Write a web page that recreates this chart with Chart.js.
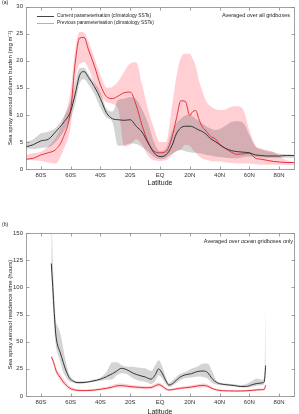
<!DOCTYPE html>
<html>
<head>
<meta charset="utf-8">
<script src="https://cdn.jsdelivr.net/npm/chart.js@4"></script>
<style>
html, body { margin: 0; padding: 0; background: #fff; width: 299px; height: 414px; overflow: hidden; }
body { position: relative; font-family: "Liberation Sans", Arial, sans-serif; color: #222; }
canvas { position: absolute; left: 0; }
#chartA { top: 0; }
#chartB { top: 200px; }
.note { position: absolute; white-space: nowrap; line-height: 1; }
.key { position: absolute; width: 17px; height: 0; }
</style>
</head>
<body>
<canvas id="chartA" width="299" height="200"></canvas>
<canvas id="chartB" width="299" height="220"></canvas>

<div class="note" style="left:2px; top:0px; font-size:5px;">(a)</div>
<div class="key" style="left:37px; top:16px; border-top:1px solid #444;"></div>
<div class="note" style="left:57px; top:13.5px; font-size:4.8px;">Current parameterisation (climatology SSTs)</div>
<div class="key" style="left:37px; top:22.5px; border-top:1.5px solid #f2959c;"></div>
<div class="note" style="left:57px; top:20.5px; font-size:4.8px;">Previous parameterisation (climatology SSTs)</div>
<div class="note" style="right:9px; top:13px; font-size:5.5px;">Averaged over all gridboxes</div>

<div class="note" style="left:2px; top:222px; font-size:5px;">(b)</div>
<div class="note" style="right:6px; top:239px; font-size:5.5px;">Averaged over ocean gridboxes only</div>

<script>
// x axis (latitude) ticks
const xTicks = [-80, -60, -40, -20, 0, 20, 40, 60, 80];
const xTickLabels = ['80S', '60S', '40S', '20S', 'EQ', '20N', '40N', '60N', '80N'];
const yTicksA = [0, 5, 10, 15, 20, 25, 30];
const yTicksB = [0, 25, 50, 75, 100, 125, 150];

// (a) column burden, mg m-2
const latA = [-90, -85, -80, -75, -70, -65, -60,
    -57, -54, -51, -48,
    -44, -40, -36, -32, -28, -24, -20, -16, -12, -8, -4, 0, 4, 8,
    11, 14, 17, 20,
    22, 24, 26, 28,
    31, 34, 37, 40,
    44, 48, 52, 56, 60, 64, 68, 72, 76, 80,
    85, 90];
const curA = [4.1, 4.5, 5.2, 5.5, 6.9, 8.5, 10.7,
    13.8, 17.3, 18.0, 16.9,
    15.2, 13.0, 10.4, 9.3, 9.1, 9.0, 9.1, 7.9, 6.8, 4.8, 3.0, 2.3, 2.6, 4.3,
    6.5, 7.6, 7.9, 7.9,
    7.8, 7.5, 7.2, 7.0,
    6.4, 5.6, 5.1, 4.5,
    3.8, 3.4, 3.2, 3.1, 3.0, 2.6, 2.5, 2.4, 2.4, 2.4,
    2.5, 2.5];
const curLoA = [3.8, 3.7, 3.9, 4.0, 5.0, 6.8, 9.3,
    12.0, 15.8, 16.6, 15.6,
    13.8, 11.3, 9.5, 8.7, 4.3, 4.4, 4.7, 4.6, 4.0, 3.2, 2.2, 1.8, 2.1, 2.8,
    3.3, 3.5, 3.3, 3.1,
    3.0, 3.0, 2.9, 2.8,
    2.6, 2.5, 2.3, 2.2,
    2.1, 2.0, 2.0, 2.2, 2.3, 2.2, 2.1, 2.1, 2.1, 2.1,
    2.1, 2.1];
const curHiA = [5.0, 5.5, 6.6, 6.9, 7.6, 9.5, 12.5,
    16.0, 18.6, 18.7, 17.5,
    16.0, 14.2, 11.2, 10.6, 12.8, 13.0, 13.3, 12.9, 11.0, 8.5, 5.0, 3.3, 3.8, 7.0,
    8.5, 9.3, 9.9, 10.0,
    9.7, 9.3, 8.9, 8.5,
    7.9, 7.5, 7.2, 7.4,
    8.0, 8.7, 8.8, 8.5, 6.3, 4.2, 3.6, 3.3, 3.1, 2.8,
    2.7, 2.6];
const prevA = [1.8, 2.0, 2.6, 3.0, 3.6, 5.8, 10.9,
    19.5, 24.2, 24.3, 22.0,
    19.0, 15.5, 13.4, 13.0, 13.5, 14.1, 14.2, 11.8, 8.0, 5.0, 3.3, 3.0, 3.2, 5.8,
    9.3, 12.6, 12.5, 9.9,
    10.6, 10.8, 9.3, 8.0,
    7.0, 6.0, 5.6, 4.6,
    3.8, 3.1, 2.7, 2.8, 2.9, 2.0, 1.8, 1.6, 1.4, 1.3,
    1.2, 1.2];
const prevLoA = [1.7, 1.6, 1.5, 1.2, 1.0, 3.5, 8.0,
    16.3, 19.4, 19.7, 18.5,
    15.8, 13.5, 12.4, 12.0, 11.0, 4.2, 4.5, 5.5, 4.5, 2.5, 1.6, 1.5, 1.6, 2.6,
    3.3, 3.6, 4.5, 4.3,
    3.6, 3.0, 2.4, 2.0,
    1.7, 1.5, 1.4, 1.4,
    1.2, 1.1, 1.0, 1.0, 1.0, 0.9, 0.8, 0.8, 0.8, 0.8,
    0.8, 0.8];
const prevHiA = [2.6, 2.9, 3.2, 4.2, 5.8, 9.0, 14.5,
    22.0, 25.3, 25.2, 23.5,
    20.5, 17.3, 15.0, 15.2, 16.2, 18.0, 19.5, 19.7, 15.5, 11.0, 7.5, 5.0, 5.0, 11.5,
    17.0, 20.5, 21.3, 21.3,
    20.3, 19.0, 16.5, 14.8,
    12.5, 11.6, 11.1, 10.9,
    11.0, 11.5, 11.6, 10.9, 7.2, 4.4, 3.8, 3.5, 3.2, 2.4,
    1.6, 1.3];

// (b) residence time, hours (ocean only)
const latB = [-73, -72, -71, -70, -69,
    -67, -65, -63, -61,
    -58, -55, -50, -45, -40,
    -36, -32, -29, -26, -22,
    -18, -14, -10, -6, -3,
    -1, 1, 4, 6, 9,
    13, 17, 21, 25, 29,
    32, 35, 38, 42, 46,
    50, 54, 58, 62, 65,
    68, 70, 71];
const curB = [122, 100, 76, 57, 48,
    40, 31, 23, 17,
    13.5, 12.3, 12.6, 13.8, 15.5,
    17.8, 20.5, 23, 25.5, 24,
    21, 19, 17.5, 15.5, 20,
    25, 22, 14, 10, 12,
    17, 19.5, 20.5, 22.5, 23,
    21.5, 16, 12.5, 10.8, 10.2,
    9.6, 8.8, 8.8, 10.5, 11.5,
    12, 13, 28];
const curLoB = [110, 85, 62, 47, 40,
    32, 22, 17, 13.5,
    12, 11.2, 11.8, 12.8, 14,
    15, 15.5, 19, 21, 20,
    16, 14, 13, 11, 14,
    19, 17, 11, 8.5, 10,
    14, 16.5, 17, 18, 17.5,
    16, 12, 10.5, 9.8, 9.3,
    8.7, 8, 7.8, 8.5, 9.5,
    10, 11, 20];
const curHiB = [175, 125, 92, 70, 65,
    58, 44, 30, 20,
    15, 13.5, 13.5, 15, 17,
    22, 31, 31, 28.5, 27,
    27, 26, 25.5, 23, 29,
    33, 29, 17, 12, 15,
    20, 22, 25, 27, 30,
    30, 23, 14, 12, 11.2,
    10.8, 10.2, 11, 14, 16,
    15, 16, 85];
const prevB = [36, 33, 29, 24, 21,
    17, 13, 10, 7.5,
    5.8, 5.2, 5.0, 5.3, 6.2,
    7.0, 8.2, 9.3, 9.6, 9.0,
    8.4, 8.0, 7.6, 7.8, 9.5,
    10.5, 9.5, 6.5, 5.5, 6.0,
    7.0, 7.6, 8.2, 9.2, 9.8,
    9.0, 7.0, 5.6, 4.9, 4.7,
    4.6, 4.6, 4.8, 5.2, 5.6,
    5.8, 6.0, 10];
const prevLoB = [34, 30.5, 26.5, 21.5, 18.5,
    14.5, 10.8, 8.2, 6.0,
    4.6, 4.2, 4.1, 4.4, 5.1,
    5.8, 6.9, 7.8, 8.0, 7.5,
    7.0, 6.7, 6.3, 6.4, 8.0,
    8.9, 8.0, 5.4, 4.6, 5.0,
    5.9, 6.4, 6.9, 7.8, 8.3,
    7.6, 5.9, 4.7, 4.1, 3.9,
    3.8, 3.8, 4.0, 4.4, 4.7,
    4.9, 5.0, 8.5];
const prevHiB = [38, 35.5, 31.5, 27, 24,
    20, 16, 12.5, 9.5,
    7.2, 6.3, 6.0, 6.4, 7.5,
    8.5, 10, 11.2, 11.5, 10.8,
    10, 9.5, 9.2, 9.4, 11.5,
    12.5, 11.3, 7.8, 6.6, 7.2,
    8.3, 9.0, 9.8, 10.9, 11.5,
    10.6, 8.3, 6.6, 5.8, 5.6,
    5.5, 5.5, 5.8, 6.2, 6.7,
    7.0, 7.2, 12];

const FONT = '"Liberation Sans", Arial, sans-serif';

function pts(lat, vals) {
    return lat.map((x, i) => ({ x: x, y: vals[i] }));
}

function lineSet(lat, vals, color) {
    return {
        data: pts(lat, vals), borderColor: color, borderWidth: 1, fill: false,
        pointRadius: 0, cubicInterpolationMode: 'monotone'
    };
}

function bandSets(lat, hi, lo, color) {
    return [
        { data: pts(lat, hi), fill: '+1', backgroundColor: color, borderColor: 'transparent',
          borderWidth: 0, pointRadius: 0, cubicInterpolationMode: 'monotone' },
        { data: pts(lat, lo), fill: false, borderColor: 'transparent',
          borderWidth: 0, pointRadius: 0, cubicInterpolationMode: 'monotone' }
    ];
}

// matlab style box with inward ticks
const boxTicks = {
    id: 'boxTicks',
    afterDatasetsDraw(chart) {
        const { ctx, chartArea: a, scales: { x, y } } = chart;
        const l = Math.round(a.left) + 0.5, r = Math.round(a.right) + 0.5;
        const t = Math.round(a.top) + 0.5, b = Math.round(a.bottom) + 0.5;
        ctx.save();
        ctx.strokeStyle = '#8a8a8a';
        ctx.lineWidth = 0.8;
        ctx.strokeRect(l, t, r - l, b - t);
        ctx.beginPath();
        x.ticks.forEach(tk => {
            const px = Math.round(x.getPixelForValue(tk.value)) + 0.5;
            ctx.moveTo(px, b); ctx.lineTo(px, b - 3);
            ctx.moveTo(px, t); ctx.lineTo(px, t + 3);
        });
        y.ticks.forEach(tk => {
            const py = Math.round(y.getPixelForValue(tk.value)) + 0.5;
            ctx.moveTo(l, py); ctx.lineTo(l + 3, py);
            ctx.moveTo(r, py); ctx.lineTo(r - 3, py);
        });
        ctx.stroke();
        ctx.restore();
    }
};

function makeOptions(yTicks, yTitle, topPad, xHeight, latPad) {
    return {
        responsive: false,
        animation: false,
        layout: { padding: { top: topPad, right: 5, left: 0, bottom: 0 } },
        plugins: { legend: { display: false }, tooltip: { enabled: false } },
        scales: {
            x: {
                type: 'linear', min: -90, max: 90,
                afterBuildTicks: s => { s.ticks = xTicks.map(v => ({ value: v })); },
                afterFit: s => { s.height = xHeight; },
                grid: { display: false, drawTicks: false },
                border: { display: false },
                ticks: {
                    autoSkip: false, maxRotation: 0, padding: 3, color: '#333',
                    font: { family: FONT, size: 6 },
                    callback: v => xTickLabels[xTicks.indexOf(v)]
                },
                title: {
                    display: true, text: 'Latitude', color: '#222',
                    font: { family: FONT, size: 7 }, padding: { top: 0, bottom: latPad }
                }
            },
            y: {
                min: yTicks[0], max: yTicks[yTicks.length - 1],
                afterBuildTicks: s => { s.ticks = yTicks.map(v => ({ value: v })); },
                afterFit: s => { s.width = 26; },
                grid: { display: false, drawTicks: false },
                border: { display: false },
                ticks: { padding: 3, color: '#333', font: { family: FONT, size: 6 } },
                title: {
                    display: true, text: yTitle, color: '#222',
                    font: { family: FONT, size: 6 }, padding: { top: 7, bottom: 0 }
                }
            }
        }
    };
}

const GREY = 'rgba(60, 60, 60, 0.22)';
const PINK = 'rgba(255, 105, 120, 0.32)';
const BLACK = '#333333';
const RED = '#e5323f';

new Chart(document.getElementById('chartA'), {
    type: 'line',
    data: {
        datasets: [
            lineSet(latA, curA, BLACK),
            lineSet(latA, prevA, RED),
            ...bandSets(latA, curHiA, curLoA, GREY),
            ...bandSets(latA, prevHiA, prevLoA, PINK)
        ]
    },
    options: makeOptions(yTicksA, 'Sea spray aerosol column burden (mg m\u207B\u00B2)', 6, 31, 12.8),
    plugins: [boxTicks]
});

new Chart(document.getElementById('chartB'), {
    type: 'line',
    data: {
        datasets: [
            lineSet(latB, curB, BLACK),
            lineSet(latB, prevB, RED),
            ...bandSets(latB, curHiB, curLoB, GREY),
            ...bandSets(latB, prevHiB, prevLoB, PINK)
        ]
    },
    options: makeOptions(yTicksB, 'Sea spray aerosol residence time (hours)', 33, 24, 3.8),
    plugins: [boxTicks]
});
</script>
</body>
</html>
